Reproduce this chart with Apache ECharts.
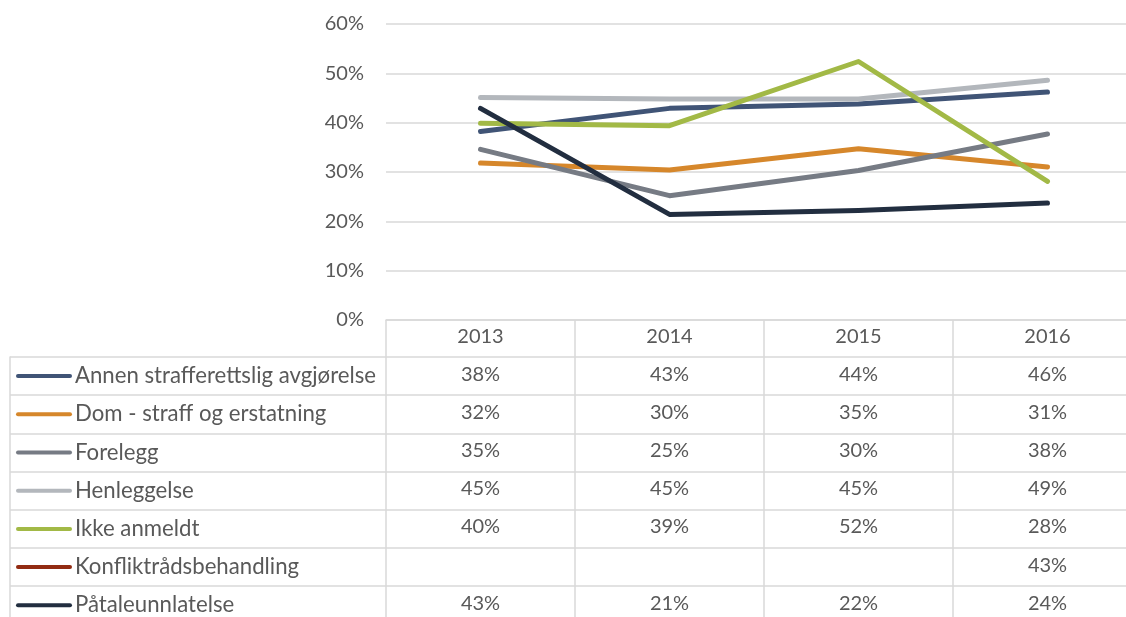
<!DOCTYPE html>
<html>
<head>
<meta charset="utf-8">
<script src="https://cdn.jsdelivr.net/npm/echarts@6/dist/echarts.min.js"></script>
<style>
    html, body { margin: 0; padding: 0; background: #fff; }
    #chart { width: 1126px; height: 617px; }
</style>
</head>
<body>
<div id="chart"></div>
<script>
// år (kolonner)
const years = ['2013', '2014', '2015', '2016']
const names = [
    'Annen strafferettslig avgjørelse',
    'Dom - straff og erstatning',
    'Forelegg',
    'Henleggelse',
    'Ikke anmeldt',
    'Konfliktrådsbehandling',
    'Påtaleunnlatelse'
]
// andeler i prosent, lest av figuren
const annen = [38.2, 42.9, 43.8, 46.2]
const dom = [31.8, 30.4, 34.7, 31.0]
const forelegg = [34.6, 25.2, 30.3, 37.7]
const henleggelse = [45.1, 44.8, 44.8, 48.6]
const ikkeAnmeldt = [39.9, 39.4, 52.4, 28.1]
const konflikt = [null, null, null, 43.0]
const paatale = [42.9, 21.4, 22.2, 23.7]
const yTicks = [0, 10, 20, 30, 40, 50, 60]

const seriesValues = [annen, dom, forelegg, henleggelse, ikkeAnmeldt, konflikt, paatale]
const colors = ['#405476', '#D6872B', '#767B84', '#B3B7BC', '#A2B946', '#922B12', '#222E40']

const textColor = '#595959'
const lineColor = '#D9D9D9'
const fontFamily = 'Lato, "Open Sans", sans-serif'

// rich-tekst for radnavn med linjeikon
let rich = { t: { color: textColor, fontSize: 22.2, fontFamily: fontFamily, padding: [0, 0, 0, 3] } }
colors.forEach((c, i) => {
    rich['i' + i] = { width: 56, height: 4, backgroundColor: c, borderRadius: 2 }
})

// celler i tabellen
let cellData = []
seriesValues.forEach((vals, i) => {
    vals.forEach((v, j) => {
        if (v !== null) cellData.push([years[j], names[i], v])
    })
})

let myChart = echarts.init(document.getElementById('chart'))
let option = {
    animation: false,
    textStyle: { fontFamily: fontFamily },
    grid: [
        { left: 386, top: 24, width: 756, height: 296, outerBoundsMode: 'none' },
        { left: 386, top: 357, width: 756, height: 267.4, outerBoundsMode: 'none' }
    ],
    xAxis: [
        {
            gridIndex: 0,
            type: 'category',
            data: years,
            boundaryGap: true,
            axisLine: { show: true, lineStyle: { color: lineColor, width: 1.5 } },
            axisTick: { show: true, interval: 0, length: 37, lineStyle: { color: lineColor, width: 1.5 } },
            axisLabel: { color: textColor, fontSize: 20, margin: 7 }
        },
        {
            gridIndex: 1,
            type: 'category',
            data: years,
            boundaryGap: true,
            axisLine: { show: false },
            axisTick: { show: false },
            axisLabel: { show: false },
            splitLine: { show: true, interval: 0, lineStyle: { color: lineColor, width: 1.5 } }
        }
    ],
    yAxis: [
        {
            gridIndex: 0,
            type: 'value',
            min: yTicks[0],
            max: yTicks[yTicks.length - 1],
            interval: 10,
            axisLine: { show: false },
            axisTick: { show: false },
            axisLabel: { color: textColor, fontSize: 20, margin: 22, formatter: '{value}%' },
            splitLine: { lineStyle: { color: lineColor, width: 1.5 } }
        },
        {
            gridIndex: 1,
            type: 'category',
            data: names,
            inverse: true,
            axisLine: { show: false },
            axisTick: { show: true, interval: 0, length: 376, lineStyle: { color: lineColor, width: 1.5 } },
            axisLabel: {
                align: 'left',
                margin: 370,
                interval: 0,
                formatter: function (value, index) {
                    return '{i' + index + '|}{t|' + value + '}'
                },
                rich: rich
            },
            splitLine: { show: true, interval: 0, lineStyle: { color: lineColor, width: 1.5 } }
        },
        {
            // venstre kant av tabellen
            gridIndex: 1,
            type: 'category',
            data: names,
            position: 'left',
            offset: 376,
            axisLine: { show: true, lineStyle: { color: lineColor, width: 1.5 } },
            axisTick: { show: false },
            axisLabel: { show: false }
        }
    ],
    series: names.map((name, i) => ({
        name: name,
        type: 'line',
        xAxisIndex: 0,
        yAxisIndex: 0,
        data: seriesValues[i],
        showSymbol: false,
        connectNulls: false,
        lineStyle: { color: colors[i], width: 5, cap: 'round', join: 'round' },
        itemStyle: { color: colors[i] }
    })).concat([
        {
            name: 'tabell',
            type: 'scatter',
            xAxisIndex: 1,
            yAxisIndex: 1,
            data: cellData,
            symbolSize: 0,
            silent: true,
            itemStyle: { opacity: 1 },
            label: {
                show: true,
                position: 'inside',
                color: textColor,
                fontSize: 20,
                offset: [0, -2],
                formatter: function (p) {
                    return Math.round(p.value[2]) + '%'
                }
            }
        }
    ])
}

option && myChart.setOption(option)
</script>
</body>
</html>
